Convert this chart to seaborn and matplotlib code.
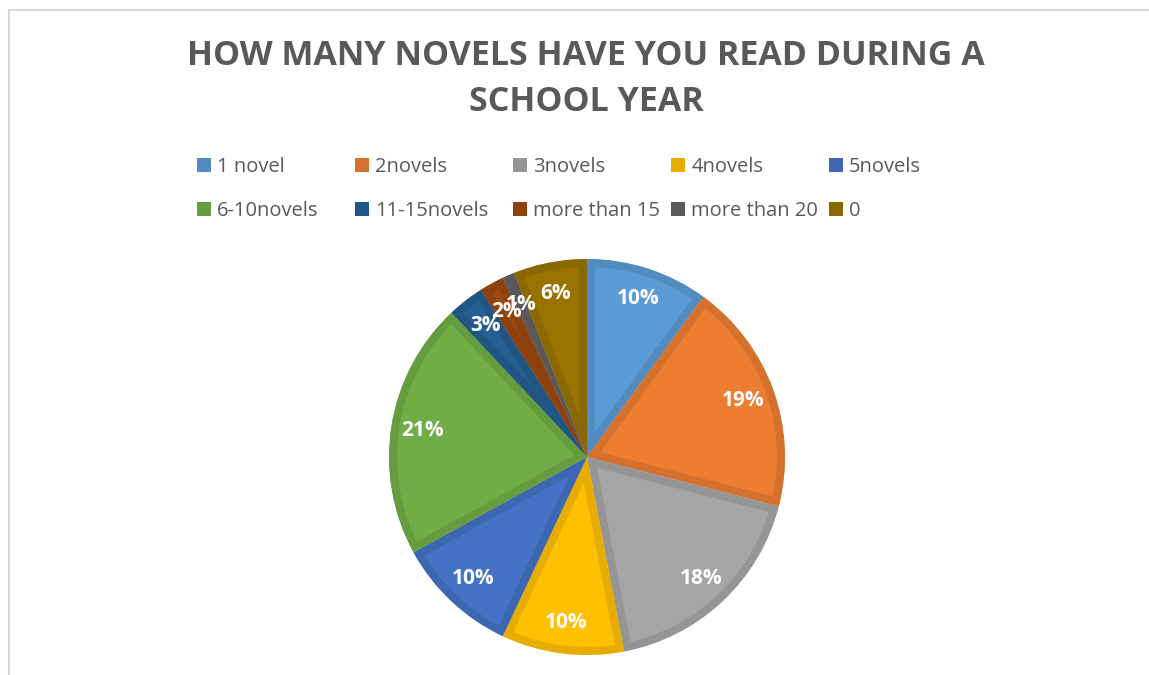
import matplotlib
matplotlib.use("Agg")
import matplotlib.pyplot as plt
from matplotlib.patches import Rectangle
import seaborn as sns

categories = ["1 novel", "2novels", "3novels", "4novels", "5novels",
              "6-10novels", "11-15novels", "more than 15", "more than 20", "0"]
shares = [10, 19, 18, 10, 10, 21, 3, 2, 1, 6]
title = "HOW MANY NOVELS HAVE YOU READ DURING A\nSCHOOL YEAR"

fill_hex = ["#5B9BD5", "#ED7D31", "#A5A5A5", "#FFC000", "#4472C4",
            "#70AD47", "#255E91", "#9E480E", "#636363", "#997300"]

sns.set_theme(style="white")
plt.rcParams["font.family"] = ["Open Sans", "DejaVu Sans"]

palette = sns.color_palette(fill_hex)
edge_palette = [tuple(c * 0.9 for c in col) for col in palette]

W, H, DPI = 1149, 675, 100
fig = plt.figure(figsize=(W / DPI, H / DPI), dpi=DPI)
fig.patch.set_facecolor("white")

# chart-area frame (top and left edges visible)
fig.patches.append(Rectangle((9 / W, -0.1), 1.2, 1 - 10 / H + 0.1,
                             transform=fig.transFigure, fill=False,
                             edgecolor="#D9D9D9", linewidth=1.5))

cx, cy, r = 587, 457, 198
ax = fig.add_axes([(cx - r) / W, 1 - (cy + r) / H, 2 * r / W, 2 * r / H])
wedges, texts, autotexts = ax.pie(
    shares, colors=palette, startangle=90, counterclock=False,
    autopct="%.0f%%", pctdistance=0.84, radius=1,
    textprops=dict(color="white", fontsize=15, fontweight="bold"))
# inset outline: stroke twice the border width, clipped to the wedge itself
for w, ec in zip(wedges, edge_palette):
    w.set_edgecolor(ec)
    w.set_linewidth(11.5)
    w.set_joinstyle("miter")
    w.set_clip_on(True)
    w.set_clip_path(w)
ax.set_xlim(-1, 1)
ax.set_ylim(-1, 1)
ax.set_aspect("equal")
ax.axis("off")

fig.text(586 / W, 1 - 79 / H, title, ha="center", va="center",
         fontsize=24.5, fontweight="bold", color="#595959", linespacing=1.47)

# legend: five equal-width columns, filled row by row
ncol, pitch, x0 = 5, 158, 197
for c in range(ncol):
    idx = [c, c + ncol]
    handles = [Rectangle((0, 0), 1, 1, facecolor=edge_palette[i], edgecolor="none")
               for i in idx]
    fig.legend(handles, [categories[i] for i in idx], ncol=1, loc="center left",
               bbox_to_anchor=((x0 + c * pitch) / W, 1 - 189 / H), frameon=False,
               borderpad=0, borderaxespad=0,
               fontsize=14.5, labelcolor="#595959", handlelength=0.7,
               handleheight=0.65, handletextpad=0.3, labelspacing=1.2)

fig.savefig("out.png", dpi=DPI)
